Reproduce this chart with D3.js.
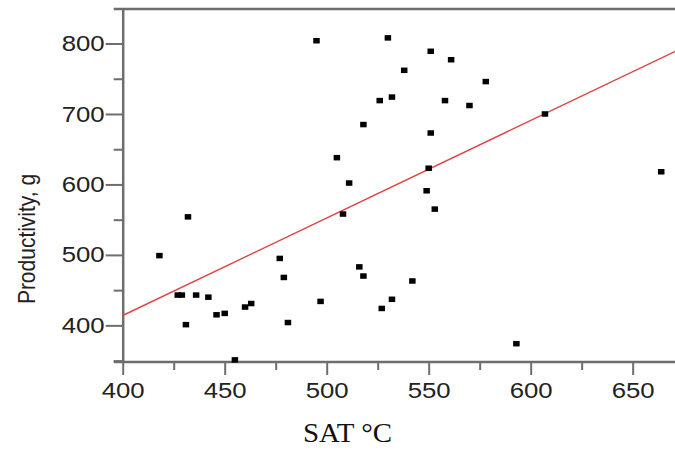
<!DOCTYPE html>
<html lang="en">
<head>
    <meta charset="UTF-8">
    <title>Productivity vs SAT</title>
    <style>
        body { margin: 0; background: #fff; font-family: Arial, "Liberation Sans", sans-serif; }
        svg { display: block; }
    </style>
</head>
<body>
    <div id="chart"></div>

    <script src="https://d3js.org/d3.v7.min.js"></script>
    <script>
        // SAT (x) and productivity (y) of each sample
        const satValues = [418, 432, 427, 429, 436, 442, 431, 446, 450, 455, 460, 463, 477, 479, 481,
                           495, 530, 551, 561, 538, 578, 526, 532, 558, 570, 518, 551, 505, 511, 550,
                           549, 553, 508, 516, 518, 497, 542, 532, 527, 607, 664, 593];
        const productivityValues = [499, 554, 443, 443, 443, 440, 401, 415, 417, 351, 426, 431, 495, 468, 404,
                                    804, 808, 789, 777, 762, 746, 719, 724, 719, 712, 685, 673, 638, 602, 623,
                                    591, 565, 558, 483, 470, 434, 463, 437, 424, 700, 618, 374];
        // linear fit endpoints (SAT, productivity)
        const fitSat = [400, 671];
        const fitProductivity = [414, 789];

        const xTicks = [400, 425, 450, 475, 500, 525, 550, 575, 600, 625, 650];
        const yTicks = [350, 400, 450, 500, 550, 600, 650, 700, 750, 800];

        const points = satValues.map((d, i) => ({x: d, y: productivityValues[i]}));

        const width = 675, height = 450;
        const plotLeft = 122.7, plotRight = 675.5, plotTop = 9, plotBottom = 362;
        const axisColor = '#6e6e6e';
        const textColor = '#222';

        const svg = d3.select('#chart')
                      .append('svg')
                      .attr('width', width)
                      .attr('height', height);

        const x = d3.scaleLinear().domain([400, 671]).range([plotLeft, plotRight]);
        const y = d3.scaleLinear().domain([348, 849]).range([plotBottom, plotTop]);

        // frame line along the top
        svg.append('line')
           .attr('x1', plotLeft - 9).attr('x2', width)
           .attr('y1', plotTop).attr('y2', plotTop)
           .attr('stroke', axisColor).attr('stroke-width', 2.5);

        // x axis
        const xAxis = svg.append('g')
           .attr('transform', 'translate(0,' + plotBottom + ')')
           .call(d3.axisBottom(x)
                   .tickValues(xTicks)
                   .tickSizeInner(13)
                   .tickSizeOuter(0)
                   .tickPadding(7)
                   .tickFormat(d => d % 50 === 0 ? d : ''));
        xAxis.select('.domain').attr('stroke', axisColor).attr('stroke-width', 2.5)
             .attr('d', 'M' + (plotLeft - 9) + ',0H' + width);
        xAxis.selectAll('.tick line')
             .attr('stroke', axisColor).attr('stroke-width', 2)
             .attr('y2', d => d % 50 === 0 ? 13 : 8);
        xAxis.selectAll('.tick text')
             .attr('fill', textColor)
             .style('font-size', '22px')
             .style('font-family', 'Arial, "Liberation Sans", sans-serif')
             .attr('textLength', d => d % 50 === 0 ? 43 : null)
             .attr('lengthAdjust', 'spacingAndGlyphs');

        // y axis
        const yAxis = svg.append('g')
           .attr('transform', 'translate(' + plotLeft + ',0)')
           .call(d3.axisLeft(y)
                   .tickValues(yTicks)
                   .tickSizeInner(17)
                   .tickSizeOuter(0)
                   .tickPadding(1)
                   .tickFormat(d => d % 100 === 0 ? d : ''));
        yAxis.select('.domain').attr('stroke', axisColor).attr('stroke-width', 2.5);
        yAxis.selectAll('.tick line')
             .attr('stroke', axisColor).attr('stroke-width', 2)
             .attr('x2', d => d % 100 === 0 ? -17 : -9);
        yAxis.selectAll('.tick text')
             .attr('fill', textColor)
             .style('font-size', '22px')
             .style('font-family', 'Arial, "Liberation Sans", sans-serif')
             .attr('textLength', d => d % 100 === 0 ? 43 : null)
             .attr('lengthAdjust', 'spacingAndGlyphs');

        // fitted line
        svg.append('line')
           .attr('x1', x(fitSat[0])).attr('y1', y(fitProductivity[0]))
           .attr('x2', x(fitSat[1])).attr('y2', y(fitProductivity[1]))
           .attr('stroke', '#dc4646').attr('stroke-width', 1.4);

        // data points as small squares
        svg.selectAll('.dot')
           .data(points)
           .enter()
           .append('rect')
           .attr('class', 'dot')
           .attr('x', d => x(d.x) - 3.25)
           .attr('y', d => y(d.y) - 2.75)
           .attr('width', 6.5)
           .attr('height', 5.5)
           .attr('fill', '#000');

        // axis titles
        svg.append('text')
           .attr('transform', 'translate(35,239) scale(1.18,1) rotate(-90)')
           .attr('text-anchor', 'middle')
           .attr('fill', textColor)
           .style('font-size', '21px')
           .style('font-family', 'Arial, "Liberation Sans", sans-serif')
           .text('Productivity, g');

        svg.append('text')
           .attr('x', 347.5)
           .attr('y', 442)
           .attr('text-anchor', 'middle')
           .attr('fill', '#111')
           .attr('textLength', 89)
           .attr('lengthAdjust', 'spacingAndGlyphs')
           .style('font-size', '27px')
           .style('font-family', '"Liberation Serif", "Times New Roman", serif')
           .text('SAT °C');
    </script>
</body>
</html>
